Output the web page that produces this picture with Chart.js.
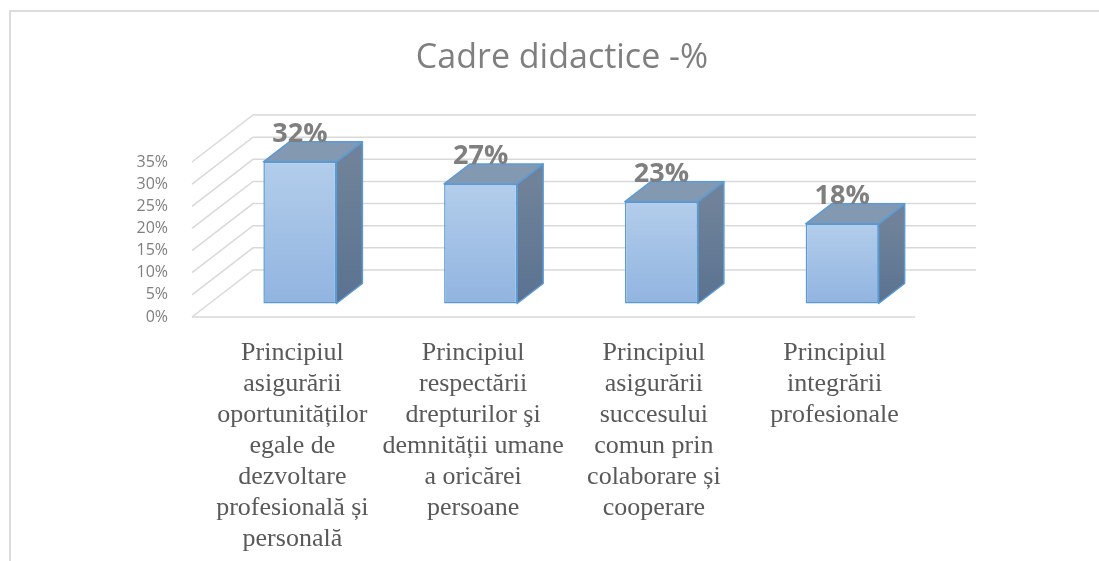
<!DOCTYPE html>
<html>
<head>
<meta charset="utf-8">
<script src="https://cdn.jsdelivr.net/npm/chart.js@4.4.1/dist/chart.umd.min.js"></script>
<style>
  body { margin: 0; background: #fff; }
  #frame { position: absolute; left: 9px; top: 10px; width: 1200px; height: 700px; border-left: 2px solid #dcdcdc; border-top: 2px solid #dcdcdc; }
  #myChart { position: absolute; left: 0; top: 0; }
</style>
</head>
<body>
<div id="frame"></div>
<canvas id="myChart" width="1099" height="561"></canvas>
<script>
// Chart data
var categories = [
    ["Principiul", "asigurării", "oportunităților", "egale de", "dezvoltare", "profesională și", "personală"],
    ["Principiul", "respectării", "drepturilor şi", "demnității umane", "a oricărei", "persoane"],
    ["Principiul", "asigurării", "succesului", "comun prin", "colaborare și", "cooperare"],
    ["Principiul", "integrării", "profesionale"]
];
var values = [32, 27, 23, 18];
var yTickValues = [0, 5, 10, 15, 20, 25, 30, 35];
var yTickLabels = ["0%", "5%", "10%", "15%", "20%", "25%", "30%", "35%"];

// 3D look (pixels)
var DEPTH_X = 61, DEPTH_Y = -47;   // depth of the floor / walls
var BAR_X = 17.5, BAR_Y = -13.5;   // front face of bars sits inside the floor
var BAR_DX = 26, BAR_DY = -20;     // depth of each bar

var box3d = {
    id: 'box3d',
    beforeDatasetsDraw: function(chart) {
        var ctx = chart.ctx, area = chart.chartArea, y = chart.scales.y;
        ctx.save();
        ctx.strokeStyle = '#d9d9d9';
        ctx.lineWidth = 1.5;
        y.ticks.forEach(function(t) {
            var py = y.getPixelForValue(t.value);
            ctx.beginPath();
            ctx.moveTo(area.left, py);
            ctx.lineTo(area.left + DEPTH_X, py + DEPTH_Y);
            ctx.lineTo(area.right + DEPTH_X, py + DEPTH_Y);
            ctx.stroke();
        });
        // front edge of the floor
        var base = y.getPixelForValue(0);
        ctx.beginPath();
        ctx.moveTo(area.left, base);
        ctx.lineTo(area.right, base);
        ctx.stroke();
        ctx.restore();
        // bars are drawn a bit back in the floor
        ctx.save();
        ctx.translate(BAR_X, BAR_Y);
    },
    afterDatasetsDraw: function(chart) {
        var ctx = chart.ctx;
        ctx.restore();
        var meta = chart.getDatasetMeta(0);
        meta.data.forEach(function(bar, i) {
            var p = bar.getProps(['x', 'y', 'base', 'width'], true);
            var l = p.x - p.width / 2 + BAR_X, r = p.x + p.width / 2 + BAR_X;
            var t = p.y + BAR_Y, b = p.base + BAR_Y;
            ctx.save();
            ctx.lineWidth = 1.5;
            ctx.lineJoin = 'round';
            ctx.strokeStyle = '#5b9bd5';
            // side face
            var g = ctx.createLinearGradient(0, t, 0, b);
            g.addColorStop(0, '#6f8299');
            g.addColorStop(1, '#5a7291');
            ctx.fillStyle = g;
            ctx.beginPath();
            ctx.moveTo(r, t);
            ctx.lineTo(r + BAR_DX, t + BAR_DY);
            ctx.lineTo(r + BAR_DX, b + BAR_DY);
            ctx.lineTo(r, b);
            ctx.closePath();
            ctx.fill();
            ctx.stroke();
            // top face
            ctx.fillStyle = '#8398b1';
            ctx.beginPath();
            ctx.moveTo(l, t);
            ctx.lineTo(l + BAR_DX, t + BAR_DY);
            ctx.lineTo(r + BAR_DX, t + BAR_DY);
            ctx.lineTo(r, t);
            ctx.closePath();
            ctx.fill();
            ctx.stroke();
            // value label
            ctx.fillStyle = '#7f7f7f';
            ctx.font = 'bold 27px "Open Sans"';
            ctx.textAlign = 'center';
            ctx.textBaseline = 'alphabetic';
            ctx.fillText(values[i] + '%', (l + r) / 2, t + BAR_DY);
            ctx.restore();
        });
    }
};

window.addEventListener('load', function() {
    var ctx = document.getElementById('myChart').getContext('2d');
    var myBarChart = new Chart(ctx, {
        type: 'bar',
        data: {
            labels: categories,
            datasets: [{
                data: values,
                backgroundColor: function(c) {
                    var chart = c.chart, y = chart.scales.y;
                    if (!y || !c.parsed) return '#a3c2e8';
                    var top = y.getPixelForValue(c.parsed.y), base = y.getPixelForValue(0);
                    if (!isFinite(top) || !isFinite(base)) return '#a3c2e8';
                    var g = chart.ctx.createLinearGradient(0, top, 0, base);
                    g.addColorStop(0, '#b3cdeb');
                    g.addColorStop(1, '#91b4e0');
                    return g;
                },
                borderColor: '#5b9bd5',
                borderWidth: 1.5,
                borderSkipped: false,
                barPercentage: 0.404,
                categoryPercentage: 1,
                clip: false
            }]
        },
        options: {
            responsive: false,
            animation: false,
            layout: { padding: { left: 25, right: 0, top: 0, bottom: 0 } },
            plugins: {
                legend: { display: false },
                tooltip: { enabled: false },
                title: {
                    display: true,
                    text: 'Cadre didactice -%',
                    color: '#7f7f7f',
                    font: { family: 'Open Sans', size: 34, weight: 'normal', lineHeight: 1.2 },
                    padding: { top: 38, bottom: 83.2 }
                }
            },
            scales: {
                x: {
                    grid: { display: false, drawTicks: false },
                    border: { display: false },
                    ticks: {
                        color: '#595959',
                        font: { family: 'Liberation Serif', size: 26, lineHeight: 1.19 },
                        maxRotation: 0,
                        minRotation: 0,
                        autoSkip: false,
                        padding: 21,
                        labelOffset: 10
                    },
                    afterFit: function(s) { s.height = 244; }
                },
                y: {
                    min: 0,
                    max: 35,
                    grid: { display: false, drawTicks: false },
                    border: { display: false },
                    afterBuildTicks: function(s) {
                        s.ticks = yTickValues.map(function(v) { return { value: v }; });
                    },
                    ticks: {
                        color: '#7f7f7f',
                        font: { family: 'Open Sans', size: 16 },
                        padding: 24,
                        autoSkip: false,
                        callback: function(v, i) { return yTickLabels[i]; }
                    },
                    afterFit: function(s) { s.width = 167; }
                },
                // empty space on the right of the plot
                yRight: {
                    position: 'right',
                    min: 0,
                    max: 1,
                    grid: { display: false, drawTicks: false },
                    border: { display: false },
                    ticks: { display: false },
                    afterFit: function(s) { s.width = 184; }
                }
            }
        },
        plugins: [box3d]
    });
});
</script>
</body>
</html>
